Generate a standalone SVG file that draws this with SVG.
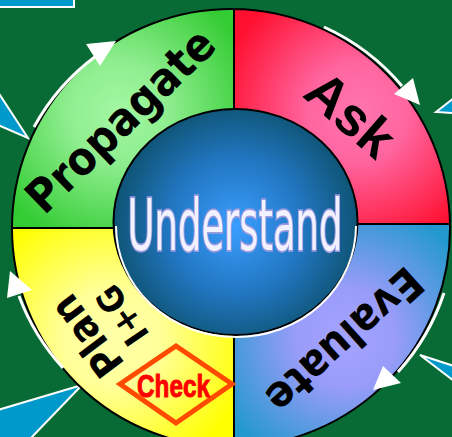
<svg xmlns="http://www.w3.org/2000/svg" width="452" height="437" viewBox="0 0 452 437">
<defs>
  <radialGradient id="gG" gradientUnits="userSpaceOnUse" cx="118" cy="112" r="140">
    <stop offset="0" stop-color="#A2F8A2"/><stop offset="0.35" stop-color="#90EE90"/><stop offset="1" stop-color="#33CC33"/>
  </radialGradient>
  <radialGradient id="gR" gradientUnits="userSpaceOnUse" cx="358" cy="112" r="140">
    <stop offset="0" stop-color="#FF75AE"/><stop offset="0.35" stop-color="#FF66A0"/><stop offset="1" stop-color="#FF1030"/>
  </radialGradient>
  <radialGradient id="gB" gradientUnits="userSpaceOnUse" cx="346" cy="338" r="140">
    <stop offset="0" stop-color="#A4A4FF"/><stop offset="0.35" stop-color="#9A9CFA"/><stop offset="1" stop-color="#2299CC"/>
  </radialGradient>
  <radialGradient id="gY" gradientUnits="userSpaceOnUse" cx="112" cy="338" r="140">
    <stop offset="0" stop-color="#FFFFA8"/><stop offset="0.35" stop-color="#FFFF99"/><stop offset="1" stop-color="#FFFF00"/>
  </radialGradient>
  <radialGradient id="gU" gradientUnits="userSpaceOnUse" cx="236" cy="226" r="124">
    <stop offset="0" stop-color="#3A9EFF"/><stop offset="0.55" stop-color="#2176C0"/><stop offset="1" stop-color="#0E5373"/>
  </radialGradient>
</defs>
<style>
  .seg{stroke:#000;stroke-width:2}
  .lbl{font-family:"DejaVu Sans Condensed","DejaVu Sans",Verdana,sans-serif;font-stretch:condensed;font-weight:bold;fill:#000;text-anchor:middle}
  .arc{fill:none;stroke:#fff;stroke-width:3}
  .head{fill:#fff}
  .tri{fill:#0099CC;stroke:#fff;stroke-width:2}
</style>
<rect width="452" height="437" fill="#086A34"/>
<rect x="-2" y="-2" width="76" height="9" class="tri"/>
<polygon class="tri" points="-2,92 28,138 -2,125"/>
<polygon class="tri" points="436,112 454,98 454,113"/>
<polygon class="tri" points="420,355 454,366 454,381"/>
<polygon class="tri" points="82,385 -2,410 -2,439 30,439"/>

<g id="propagate">
  <path class="seg" fill="url(#gG)" d="M234,228 L234,9 A219,219 0 0 0 12,228 Z"/>
  <text class="lbl" font-size="46" transform="translate(121,121) rotate(-44)" y="15">Propagate</text>
</g>
<g id="ask">
  <path class="seg" fill="url(#gR)" d="M234,224 L234,9 A219,219 0 0 1 450,224 Z"/>
  <text class="lbl" style="font-family:'Liberation Sans',Arial,sans-serif;font-stretch:normal" font-size="54" transform="translate(351,114) rotate(41)" y="19">Ask</text>
</g>
<g id="evaluate">
  <path class="seg" fill="url(#gB)" d="M234,224 L450,224 A219,219 0 0 1 234,447 Z"/>
  <text class="lbl" font-size="44" transform="translate(345,341) rotate(138)" y="16">Evaluate</text>
</g>
<g id="plan">
  <path class="seg" fill="url(#gY)" d="M234,228 L234,447 A219,219 0 0 1 12,228 Z"/>
  <text class="lbl" font-size="41" transform="translate(87,336) rotate(233)" y="14">Plan</text>
  <text class="lbl" font-size="35" transform="translate(121.5,315.5) rotate(236)" y="13">I+G</text>
</g>
<g id="check">
  <polygon points="120,384 176,346 232,384 176,423" fill="none" stroke="#FF4A00" stroke-width="5"/>
  <text transform="translate(173.5,397) scale(0.76,1)" font-family="'Liberation Sans',Arial,sans-serif" font-weight="bold" font-size="32" text-anchor="middle" fill="#FF0000" stroke="#FF0000" stroke-width="1">Check</text>
</g>
<g id="understand">
  <ellipse cx="235.5" cy="222" rx="122" ry="113" fill="url(#gU)" stroke="#000" stroke-width="2"/>
  <path d="M356,226 A120,111 0 0 1 116,226" fill="none" stroke="#fff" stroke-width="2"/>
  <text transform="translate(235,250) scale(0.52,1)" font-family="'DejaVu Sans',Verdana,sans-serif" font-size="71" text-anchor="middle" fill="#F2F2FF" stroke="#9A9AE0" stroke-width="3.5" paint-order="stroke">Understand</text>
</g>
<g id="connectors">
  <path class="arc" d="M34,127 A221,221 0 0 1 96,56"/>
  <polygon class="head" points="116,41 86,44 100,66"/>
  <path class="arc" d="M324,27 A222,222 0 0 1 402,86"/>
  <polygon class="head" points="394,94 413,78 420,105"/>
  <path class="arc" d="M444,293 A222,222 0 0 1 398,372"/>
  <polygon class="head" points="383,366 401,383 373,390"/>
  <path class="arc" d="M63,368 A221,221 0 0 1 19,296"/>
  <polygon class="head" points="10,271 32,290 7,298"/>
</g>
</svg>
